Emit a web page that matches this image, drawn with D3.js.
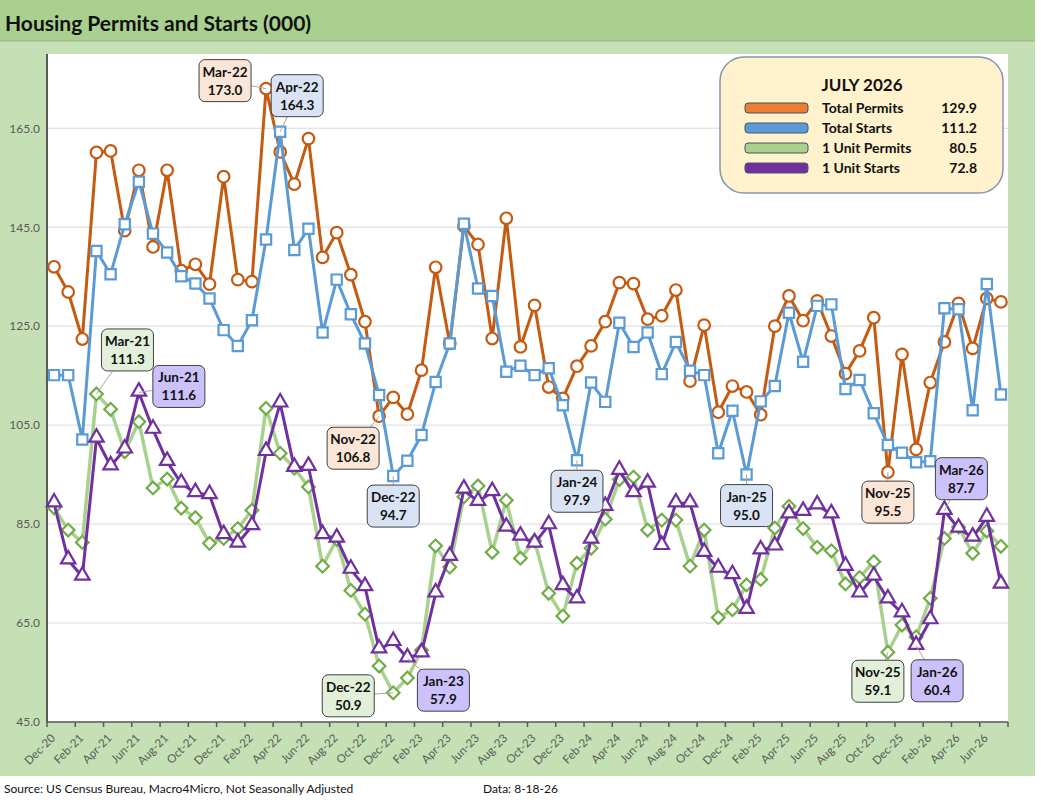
<!DOCTYPE html>
<html>
<head>
    <script src="https://d3js.org/d3.v7.min.js" charset="utf-8"></script>
    <style>
        body { margin: 0; background: white; }
        text { font-family: Lato, "Open Sans", sans-serif; }
    </style>
</head>
<body>
<script>
    // ---- data ----
    var months = ["Dec-20",
        "Jan-21", "Feb-21", "Mar-21", "Apr-21", "May-21", "Jun-21", "Jul-21", "Aug-21", "Sep-21", "Oct-21", "Nov-21", "Dec-21",
        "Jan-22", "Feb-22", "Mar-22", "Apr-22", "May-22", "Jun-22", "Jul-22", "Aug-22", "Sep-22", "Oct-22", "Nov-22", "Dec-22",
        "Jan-23", "Feb-23", "Mar-23", "Apr-23", "May-23", "Jun-23", "Jul-23", "Aug-23", "Sep-23", "Oct-23", "Nov-23", "Dec-23",
        "Jan-24", "Feb-24", "Mar-24", "Apr-24", "May-24", "Jun-24", "Jul-24", "Aug-24", "Sep-24", "Oct-24", "Nov-24", "Dec-24",
        "Jan-25", "Feb-25", "Mar-25", "Apr-25", "May-25", "Jun-25", "Jul-25", "Aug-25", "Sep-25", "Oct-25", "Nov-25", "Dec-25",
        "Jan-26", "Feb-26", "Mar-26", "Apr-26", "May-26", "Jun-26", "Jul-26"];

    var totalPermits = [137.0,
        131.9, 122.4, 160.1, 160.4, 144.3, 156.5, 141.0, 156.5, 136.2, 137.5, 133.5, 155.2,
        134.4, 134.0, 173.0, 160.2, 153.7, 162.9, 138.9, 143.9, 135.4, 125.9, 106.8, 110.6,
        107.2, 116.1, 136.9, 121.5, 145.2, 141.5, 122.5, 146.8, 120.8, 129.2, 112.7, 110.4,
        116.9, 121.0, 125.9, 133.8, 133.6, 126.4, 127.1, 132.3, 113.9, 125.2, 107.6, 112.9,
        111.7, 107.1, 125.0, 131.1, 126.1, 130.1, 123.0, 115.4, 120.0, 126.7, 95.5, 119.3,
        100.1, 113.6, 121.8, 129.6, 120.5, 130.6, 129.9];

    var totalStarts = [115.1,
        115.1, 102.1, 140.2, 135.5, 145.6, 154.2, 143.7, 139.9, 135.1, 133.6, 130.6, 124.2,
        121.0, 126.2, 142.5, 164.3, 140.4, 144.7, 123.7, 134.4, 127.4, 121.5, 111.1, 94.7,
        97.8, 103.0, 113.7, 121.5, 145.7, 132.6, 131.1, 115.8, 117.0, 115.1, 116.5, 109.0,
        97.9, 113.6, 109.7, 125.7, 120.8, 123.7, 115.3, 121.8, 116.0, 115.1, 99.3, 107.9,
        95.0, 109.8, 112.9, 127.7, 117.8, 129.1, 129.4, 112.3, 114.1, 107.4, 101.0, 99.4,
        97.5, 97.7, 128.6, 128.4, 108.0, 133.5, 111.2];

    var unitPermits = [88.3,
        83.8, 81.3, 111.3, 108.2, 99.6, 105.7, 92.3, 94.1, 88.2, 86.3, 81.1, 82.1,
        84.1, 87.8, 108.4, 99.3, 96.3, 92.5, 76.5, 81.9, 71.6, 66.8, 56.3, 50.9,
        53.9, 59.5, 80.6, 76.3, 90.5, 92.7, 79.3, 89.8, 78.1, 81.6, 71.0, 66.4,
        77.1, 80.1, 86.0, 94.0, 94.5, 83.8, 85.8, 85.8, 76.5, 83.8, 66.1, 67.7,
        72.7, 73.8, 84.2, 88.6, 84.1, 80.3, 79.6, 72.9, 74.2, 77.4, 59.1, 64.6,
        62.2, 70.0, 82.1, 84.4, 79.1, 83.6, 80.5];

    var unitStarts = [89.2,
        77.7, 74.4, 102.3, 96.7, 100.1, 111.6, 104.1, 97.6, 93.2, 91.3, 90.9, 82.8,
        81.1, 84.6, 99.6, 109.4, 96.4, 96.6, 82.8, 82.1, 75.8, 72.3, 59.7, 61.2,
        57.9, 58.9, 71.0, 78.4, 92.0, 89.5, 91.5, 84.3, 82.5, 81.1, 84.8, 72.5,
        69.8, 81.9, 88.5, 95.8, 91.3, 93.2, 80.6, 89.2, 89.2, 79.2, 76.0, 74.7,
        67.7, 79.7, 80.5, 87.0, 87.5, 88.8, 87.0, 76.4, 71.0, 74.4, 69.8, 67.0,
        60.4, 65.6, 87.7, 84.1, 82.3, 86.3, 72.8];

    var yTicks = [45, 65, 85, 105, 125, 145, 165];

    var seriesNames = ["Total Permits", "Total Starts", "1 Unit Permits", "1 Unit Starts"];

    // callouts: series index, month, box offset from the point
    var callouts = [
        { s: 0, m: "Mar-22", dx: -41, dy: -8 },
        { s: 1, m: "Apr-22", dx: 17, dy: -36 },
        { s: 2, m: "Mar-21", dx: 31, dy: -44 },
        { s: 3, m: "Jun-21", dx: 40, dy: -6 },
        { s: 0, m: "Nov-22", dx: -26, dy: 32 },
        { s: 1, m: "Dec-22", dx: 0, dy: 30 },
        { s: 2, m: "Dec-22", dx: -45, dy: 3 },
        { s: 3, m: "Jan-23", dx: 36, dy: 32 },
        { s: 1, m: "Jan-24", dx: 0, dy: 31 },
        { s: 1, m: "Jan-25", dx: 0, dy: 31 },
        { s: 0, m: "Nov-25", dx: 0, dy: 30 },
        { s: 3, m: "Mar-26", dx: 17, dy: -32 },
        { s: 2, m: "Nov-25", dx: -10, dy: 29 },
        { s: 3, m: "Jan-26", dx: 21, dy: 35 }
    ];

    // ---- styles ----
    var lineColors = ["#C55A11", "#5B9BD5", "#A9D18E", "#7030A0"];
    var markColors = ["#C55A11", "#5B9BD5", "#70AD47", "#7030A0"];
    var swatchColors = ["#ED7D31", "#5B9BD5", "#A9D18E", "#7030A0"];
    var boxFills = ["#FBE5D6", "#DAE3F3", "#E2F0D9", "#CCC1FA"];

    var W = 1041, H = 806;
    var plot = { left: 47, right: 1008, top: 54, bottom: 722 };

    var svg = d3.select("body")
        .append("svg")
        .attr("width", W)
        .attr("height", H);

    // backgrounds
    svg.append("rect").attr("x", 0).attr("y", 0).attr("width", W).attr("height", H).style("fill", "white");
    svg.append("rect").attr("x", 0).attr("y", 42).attr("width", 1035).attr("height", 734).style("fill", "#C5E0B4");
    svg.append("rect").attr("x", 0).attr("y", 0).attr("width", 1035).attr("height", 41).style("fill", "#A9D08E");
    svg.append("line").attr("x1", 0).attr("x2", 1035).attr("y1", 41).attr("y2", 41)
        .style("stroke", "#9CB98A").style("stroke-width", 1.5);
    svg.append("text")
        .attr("x", 5).attr("y", 31)
        .style("font-size", "21px").style("font-weight", "bold").style("fill", "#111")
        .text("Housing Permits and Starts (000)");
    svg.append("rect")
        .attr("x", plot.left).attr("y", plot.top)
        .attr("width", plot.right - plot.left).attr("height", plot.bottom - plot.top)
        .style("fill", "white");

    // scales
    var x = d3.scaleBand().domain(months).range([plot.left, plot.right]).padding(0);
    var y = d3.scaleLinear().domain([45, 180]).range([plot.bottom, plot.top]);
    var cx = function (m) { return x(m) + x.bandwidth() / 2; };

    // gridlines
    svg.append("g")
        .selectAll("line")
        .data(yTicks.slice(1))
        .enter()
        .append("line")
        .attr("x1", plot.left).attr("x2", plot.right)
        .attr("y1", function (d) { return y(d); })
        .attr("y2", function (d) { return y(d); })
        .style("stroke", "#D9D9D9").style("stroke-width", 1);

    // y axis
    var yAxis = svg.append("g")
        .attr("transform", "translate(" + plot.left + ",0)")
        .call(d3.axisLeft(y).tickValues(yTicks).tickFormat(d3.format(".1f")).tickSize(0).tickPadding(7));
    yAxis.select(".domain").remove();
    yAxis.selectAll("text").style("font-size", "12px").style("fill", "#595959").style("font-family", "Lato, sans-serif");
    svg.append("line")
        .attr("x1", plot.left).attr("x2", plot.left)
        .attr("y1", plot.top).attr("y2", plot.bottom)
        .style("stroke", "#595959").style("stroke-width", 2);

    // x axis
    var xAxis = svg.append("g")
        .attr("transform", "translate(0," + plot.bottom + ")")
        .call(d3.axisBottom(x)
            .tickValues(months.filter(function (d, i) { return i % 2 === 0; }))
            .tickSize(0).tickPadding(0));
    xAxis.select(".domain").remove();
    xAxis.selectAll("text")
        .attr("text-anchor", "end")
        .attr("dy", "0.35em")
        .attr("transform", "translate(-1,14) rotate(-45)")
        .style("font-size", "11.5px").style("fill", "#595959").style("font-family", "Lato, sans-serif");
    svg.append("g")
        .selectAll("line")
        .data(months.filter(function (d, i) { return i % 2 === 0; }))
        .enter()
        .append("line")
        .attr("x1", function (d) { return x(d); })
        .attr("x2", function (d) { return x(d); })
        .attr("y1", plot.bottom).attr("y2", plot.bottom + 5)
        .style("stroke", "#595959").style("stroke-width", 1.5);
    svg.append("line")
        .attr("x1", plot.right).attr("x2", plot.right)
        .attr("y1", plot.bottom).attr("y2", plot.bottom + 5)
        .style("stroke", "#595959").style("stroke-width", 1.5);
    svg.append("line")
        .attr("x1", plot.left).attr("x2", plot.right)
        .attr("y1", plot.bottom).attr("y2", plot.bottom)
        .style("stroke", "#595959").style("stroke-width", 1.5);

    // series
    var allSeries = [totalPermits, totalStarts, unitPermits, unitStarts];
    var symbols = [
        d3.symbol().type(d3.symbolCircle).size(105),
        d3.symbol().type(d3.symbolSquare).size(105),
        d3.symbol().type(d3.symbolSquare).size(80),
        d3.symbol().type(d3.symbolTriangle).size(90)
    ];
    var line = d3.line()
        .x(function (d, i) { return cx(months[i]); })
        .y(function (d) { return y(d); });

    allSeries.forEach(function (vals, s) {
        var g = svg.append("g").attr("class", "series");
        g.append("path")
            .attr("d", line(vals))
            .style("fill", "none")
            .style("stroke", lineColors[s])
            .style("stroke-width", s === 2 ? 3.5 : 3)
            .style("stroke-linejoin", "round");
        g.selectAll("path.mark")
            .data(vals)
            .enter()
            .append("path")
            .attr("class", "mark")
            .attr("d", symbols[s])
            .attr("transform", function (d, i) {
                var t = "translate(" + cx(months[i]) + "," + y(d) + ")";
                if (s === 2) t += " rotate(45)";
                if (s === 3) t += " translate(0,-1)";
                return t;
            })
            .style("fill", "white")
            .style("stroke", markColors[s])
            .style("stroke-width", 2.2);
    });

    // callouts
    var cg = svg.append("g");
    callouts.forEach(function (c) {
        var i = months.indexOf(c.m);
        var v = allSeries[c.s][i];
        var px = cx(c.m), py = y(v);
        var bx = px + c.dx, by = py + c.dy;
        cg.append("line")
            .attr("x1", px).attr("y1", py)
            .attr("x2", bx).attr("y2", by)
            .style("stroke", "#A6A6A6").style("stroke-width", 1);
        cg.append("rect")
            .attr("x", bx - 26).attr("y", by - 21)
            .attr("width", 52).attr("height", 42)
            .attr("rx", 6)
            .style("fill", boxFills[c.s])
            .style("stroke", "#404040").style("stroke-width", 1);
        cg.append("text")
            .attr("x", bx).attr("y", by - 4)
            .attr("text-anchor", "middle")
            .style("font-size", "13.5px").style("font-weight", "bold").style("fill", "#111")
            .text(c.m);
        cg.append("text")
            .attr("x", bx).attr("y", by + 14)
            .attr("text-anchor", "middle")
            .style("font-size", "13.5px").style("font-weight", "bold").style("fill", "#111")
            .text(d3.format(".1f")(v));
    });

    // legend
    var lg = svg.append("g");
    lg.append("rect")
        .attr("x", 720).attr("y", 57)
        .attr("width", 283).attr("height", 136)
        .attr("rx", 24)
        .style("fill", "#FFF2CC")
        .style("stroke", "#8497B0").style("stroke-width", 1.5);
    lg.append("text")
        .attr("x", 862).attr("y", 91)
        .attr("text-anchor", "middle")
        .style("font-size", "17px").style("font-weight", "bold").style("fill", "#111")
        .text("JULY 2026");
    seriesNames.forEach(function (name, s) {
        var ry = 108 + s * 20;
        lg.append("rect")
            .attr("x", 745).attr("y", ry - 5)
            .attr("width", 63).attr("height", 10)
            .attr("rx", 3)
            .style("fill", swatchColors[s])
            .style("stroke", "#44546A").style("stroke-width", 1);
        lg.append("text")
            .attr("x", 822).attr("y", ry + 5)
            .style("font-size", "14px").style("font-weight", "bold").style("fill", "#111")
            .text(name);
        lg.append("text")
            .attr("x", 977).attr("y", ry + 5)
            .attr("text-anchor", "end")
            .style("font-size", "14px").style("font-weight", "bold").style("fill", "#111")
            .text(d3.format(".1f")(allSeries[s][allSeries[s].length - 1]));
    });

    // footer
    svg.append("text")
        .attr("x", 4).attr("y", 793)
        .style("font-size", "12px").style("fill", "#111")
        .text("Source: US Census Bureau, Macro4Micro, Not Seasonally Adjusted");
    svg.append("text")
        .attr("x", 483).attr("y", 793)
        .style("font-size", "12px").style("fill", "#111")
        .text("Data: 8-18-26");
</script>
</body>
</html>
